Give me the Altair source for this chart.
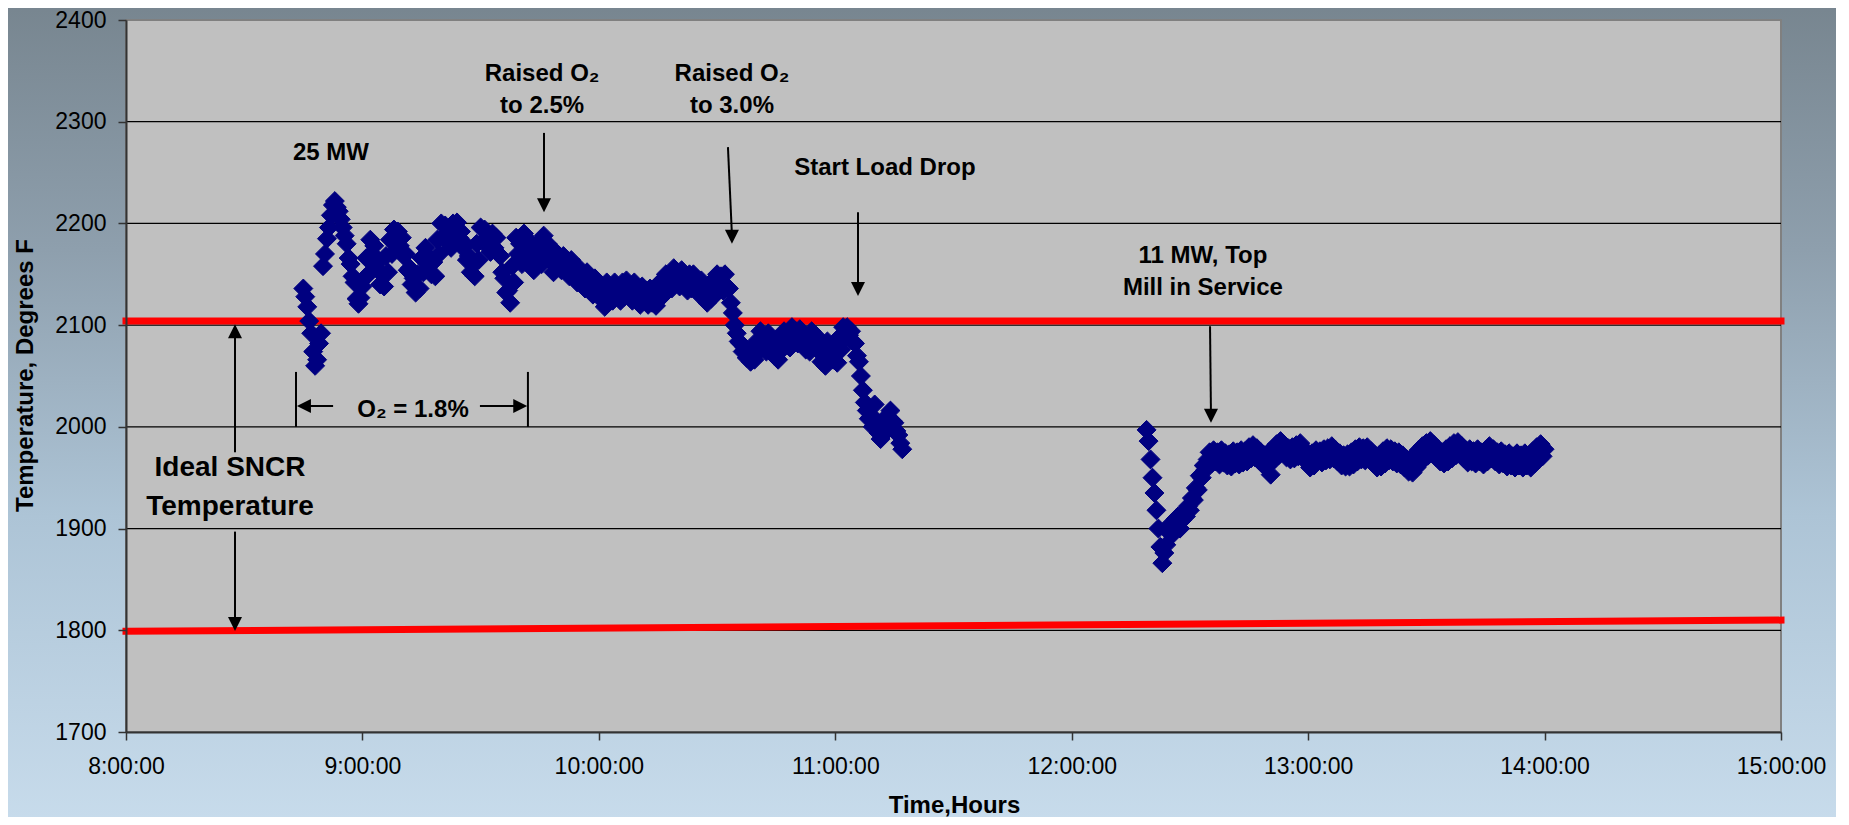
import altair as alt
import pandas as pd

# ---------------- data ----------------
# furnace temperature, one reading every 30 seconds
seg1_start = "8:45:00"
seg1_temps = [
    2136, 2128, 2118, 2104, 2092, 2074, 2060, 2066, 2082, 2092,
    2158, 2170, 2185, 2196, 2208, 2218, 2222, 2216, 2212, 2204,
    2196, 2188, 2180, 2166, 2160, 2148, 2142, 2126, 2121, 2127,
    2138, 2146, 2166, 2150, 2184, 2170, 2178, 2160, 2154, 2140,
    2150, 2138, 2168, 2152, 2184, 2170, 2194, 2180, 2192, 2178,
    2186, 2168, 2170, 2154, 2156, 2140, 2146, 2132, 2150, 2136,
    2166, 2152, 2176, 2162, 2166, 2150, 2162, 2148, 2184, 2170,
    2200, 2186, 2198, 2184, 2192, 2176, 2200, 2186, 2201, 2186,
    2192, 2176, 2180, 2164, 2168, 2152, 2160, 2148, 2180, 2164,
    2196, 2182, 2194, 2180, 2186, 2172, 2190, 2176, 2186, 2170,
    2168, 2152, 2146, 2132, 2134, 2122, 2158, 2142, 2186, 2170,
    2180, 2160, 2190, 2176, 2184, 2168, 2170, 2154, 2178, 2162,
    2176, 2160, 2188, 2174, 2180, 2164, 2166, 2152, 2172, 2158,
    2168, 2154, 2168, 2154, 2162, 2148, 2164, 2150, 2156, 2142,
    2156, 2142, 2150, 2136, 2152, 2138, 2144, 2130, 2146, 2132,
    2140, 2126, 2132, 2118, 2142, 2128, 2138, 2124, 2142, 2128,
    2138, 2124, 2142, 2128, 2144, 2130, 2138, 2124, 2142, 2128,
    2134, 2120, 2138, 2124, 2134, 2120, 2136, 2122, 2132, 2119,
    2140, 2126, 2144, 2130, 2150, 2136, 2150, 2136, 2156, 2142,
    2152, 2138, 2154, 2140, 2148, 2134, 2150, 2136, 2150, 2136,
    2144, 2130, 2144, 2130, 2136, 2122, 2140, 2126, 2144, 2130,
    2150, 2136, 2148, 2134, 2150, 2138, 2136, 2122, 2112, 2100,
    2092, 2084, 2082, 2074, 2078, 2068, 2074, 2064, 2076, 2066,
    2084, 2074, 2094, 2082, 2088, 2074, 2092, 2080, 2082, 2070,
    2078, 2066, 2088, 2076, 2094, 2082, 2090, 2078, 2098, 2086,
    2094, 2082, 2096, 2084, 2088, 2076, 2086, 2074, 2094, 2082,
    2090, 2076, 2078, 2064, 2070, 2060, 2084, 2072, 2078, 2066,
    2074, 2063, 2088, 2076, 2098, 2088, 2098, 2090, 2094, 2084,
    2082, 2070, 2064, 2050, 2036, 2024, 2016, 2008, 2010, 2000,
    2022, 2006, 1994, 1988, 2000, 1994, 2010, 2002, 2016, 2006,
    2004, 1996, 1992, 1984, 1978,
]
seg2_start = "12:19:00"
seg2_temps = [
    1997, 1986, 1968, 1950, 1935, 1918, 1900, 1882, 1866, 1876,
    1884, 1897, 1904, 1894, 1902, 1910, 1912, 1900, 1908, 1916,
    1912, 1922, 1918, 1930, 1928, 1940, 1938, 1952, 1950, 1962,
    1958, 1968, 1975, 1964, 1977, 1966, 1975, 1963, 1977, 1965,
    1974, 1962, 1973, 1961, 1976, 1964, 1975, 1963, 1977, 1965,
    1976, 1966, 1980, 1969, 1982, 1970, 1979, 1967, 1975, 1963,
    1972, 1961, 1975, 1953, 1978, 1968, 1983, 1972, 1986, 1975,
    1982, 1970, 1979, 1968, 1980, 1969, 1982, 1971, 1984, 1972,
    1978, 1966, 1972, 1960, 1974, 1962, 1977, 1966, 1976, 1965,
    1978, 1967, 1979, 1968, 1981, 1969, 1977, 1966, 1974, 1962,
    1972, 1961, 1973, 1961, 1975, 1963, 1978, 1966, 1980, 1968,
    1979, 1967, 1980, 1968, 1976, 1964, 1972, 1960, 1972, 1961,
    1976, 1964, 1979, 1967, 1978, 1966, 1976, 1964, 1975, 1963,
    1972, 1960, 1968, 1956, 1966, 1955, 1972, 1960, 1977, 1965,
    1981, 1969, 1984, 1972, 1986, 1974, 1982, 1970, 1978, 1966,
    1975, 1964, 1978, 1966, 1981, 1969, 1984, 1972, 1985, 1973,
    1981, 1969, 1977, 1965, 1978, 1966, 1976, 1964, 1978, 1966,
    1975, 1963, 1977, 1966, 1981, 1969, 1978, 1966, 1975, 1963,
    1976, 1964, 1973, 1961, 1974, 1962, 1971, 1960, 1974, 1962,
    1972, 1960, 1974, 1962, 1971, 1960, 1976, 1964, 1980, 1968,
    1983, 1971, 1978,
]

# ideal SNCR temperature window (red lines), at 8:00 and 15:00
line_hours = [8.0, 15.0]
upper_limit = [2104, 2104]
lower_limit = [1799, 1810]

x_ticks = [8, 9, 10, 11, 12, 13, 14, 15]
y_ticks = [1700, 1800, 1900, 2000, 2100, 2200, 2300, 2400]
y_grid = [1800, 1900, 2000, 2100, 2200, 2300]

# annotation texts (hour, temperature)
ann_text = ["25 MW", "Raised O\u2082", "to 2.5%", "Raised O\u2082", "to 3.0%",
            "Start Load Drop", "11 MW, Top", "Mill in Service", "O\u2082 = 1.8%"]
ann_h = [8.867, 9.760, 9.760, 10.563, 10.563, 11.210, 12.555, 12.555, 9.214]
ann_v = [2269, 2347, 2315.5, 2347, 2315.5, 2254.5, 2168, 2136.5, 2016.6]

big_text = ["Ideal SNCR", "Temperature"]
big_h = [8.440, 8.440]
big_v = [1959.5, 1921.2]

# arrow shafts and bracket lines
arrow_h = [9.768, 10.546, 11.096, 12.585, 8.461, 8.461, 8.719, 9.700, 8.876, 9.497]
arrow_v = [2289, 2275, 2211, 2099, 1975, 1897, 2054, 2000, 2020.5, 2020.5]
arrow_h2 = [9.768, 10.563, 11.096, 12.589, 8.461, 8.461, 8.719, 9.700, 8.740, 9.680]
arrow_v2 = [2218, 2188, 2136, 2012, 2092, 1808, 2000, 2054, 2020.5, 2020.5]

# arrow heads: tip position and direction
head_h = [9.768, 10.563, 11.096, 12.589, 8.461, 8.461, 8.723, 9.697]
head_v = [2211, 2180, 2128.6, 2004, 2101, 1799.3, 2020.5, 2020.5]
head_dir = ["down", "down", "down", "down", "up", "down", "left", "right"]

# ---------------- build tables ----------------
def to_hours(hms):
    hh, mm, ss = hms.split(":")
    return int(hh) + int(mm) / 60.0 + int(ss) / 3600.0

rows = []
for start, temps in ((seg1_start, seg1_temps), (seg2_start, seg2_temps)):
    t0 = to_hours(start)
    for i, v in enumerate(temps):
        rows.append({"h": t0 + i * 30 / 3600.0, "v": v})
pts = pd.DataFrame(rows)

lines = pd.DataFrame({
    "h": line_hours * 2,
    "v": upper_limit + lower_limit,
    "which": ["upper"] * 2 + ["lower"] * 2,
})
grid = pd.DataFrame({"v": y_grid})
ann = pd.DataFrame({"text": ann_text, "h": ann_h, "v": ann_v})
big = pd.DataFrame({"text": big_text, "h": big_h, "v": big_v})
arrows = pd.DataFrame({"h": arrow_h, "v": arrow_v, "h2": arrow_h2, "v2": arrow_v2})
head_paths = {
    "down": "M0,0L-1,-2L1,-2Z",
    "up": "M0,0L-1,2L1,2Z",
    "left": "M0,0L2,-1L2,1Z",
    "right": "M0,0L-2,-1L-2,1Z",
}
heads = pd.DataFrame({"h": head_h, "v": head_v,
                      "path": [head_paths[d] for d in head_dir]})

# ---------------- chart ----------------
W, H = 1655, 712
FONT = "Liberation Sans"

xscale = alt.Scale(domain=[8, 15], nice=False, zero=False)
yscale = alt.Scale(domain=[1700, 2400], nice=False, zero=False)

xaxis = alt.Axis(
    values=x_ticks, labelExpr="datum.value + ':00:00'", grid=False,
    title="Time,Hours", titleFont=FONT, titleFontSize=24, titleFontWeight="bold",
    titleColor="black", titleX=828, titleY=73, titleBaseline="middle",
    labelFont=FONT, labelFontSize=23, labelColor="black", labelPadding=15,
    labelFlush=False, labelOverlap=False, labelBound=False,
    tickSize=8, tickColor="#333333", tickWidth=1.5,
    domainColor="#333333", domainWidth=2, zindex=1,
)
yaxis = alt.Axis(
    values=y_ticks, format="d", grid=False,
    title="Temperature, Degrees F", titleFont=FONT, titleFontSize=24,
    titleFontWeight="bold", titleColor="black", titleAngle=270,
    titleX=-101, titleY=355, titleBaseline="middle", titleAlign="center",
    labelFont=FONT, labelFontSize=23, labelColor="black", labelPadding=12,
    labelOverlap=False, labelBound=False, labelFlush=False,
    tickSize=8, tickColor="#333333", tickWidth=1.5,
    domainColor="#333333", domainWidth=2, zindex=1,
)
X = alt.X("h:Q", scale=xscale, axis=xaxis)
Y = alt.Y("v:Q", scale=yscale, axis=yaxis)

gradient = alt.LinearGradient(
    gradient="linear", x1=0, x2=0, y1=0, y2=1,
    stops=[
        alt.GradientStop(color="#77858f", offset=0),
        alt.GradientStop(color="#8e9fad", offset=0.3),
        alt.GradientStop(color="#adc4d6", offset=0.62),
        alt.GradientStop(color="#c8dcec", offset=1),
    ],
)

bg = alt.Chart(pd.DataFrame({"a": [0]})).mark_rect(color=gradient).encode(
    x=alt.value(-130), x2=alt.value(W + 80), y=alt.value(-20), y2=alt.value(H + 100)
)
plot_bg = alt.Chart(pd.DataFrame({"a": [0]})).mark_rect(
    fill="#c0c0c0", stroke="#808080", strokeWidth=2
).encode(x=alt.value(0), x2=alt.value(W), y=alt.value(0), y2=alt.value(H))

grid_lines = alt.Chart(grid).mark_rule(color="black", strokeWidth=1.2).encode(
    y=Y, x=alt.value(0), x2=alt.value(W)
)

red = alt.Chart(lines).mark_line(color="#ff0000", strokeWidth=7, strokeCap="square").encode(
    x=X, y=Y, detail="which:N"
)

points = alt.Chart(pts).mark_point(
    shape="diamond", filled=True, size=360, color="#000080", opacity=1,
    stroke="#000080", strokeWidth=1
).encode(x=X, y=Y)

shafts = alt.Chart(arrows).mark_rule(color="black", strokeWidth=2).encode(
    x=X, y=Y, x2="h2:Q", y2="v2:Q"
)

arrow_heads = alt.Chart(heads).mark_point(
    filled=True, size=196, color="black", opacity=1, strokeWidth=0
).encode(x=X, y=Y, shape=alt.Shape("path:N", scale=None))

labels = alt.Chart(ann).mark_text(
    font=FONT, fontSize=24, fontWeight="bold", color="black",
    align="center", baseline="middle"
).encode(x=X, y=Y, text="text:N")

big_labels = alt.Chart(big).mark_text(
    font=FONT, fontSize=28, fontWeight="bold", color="black",
    align="center", baseline="middle"
).encode(x=X, y=Y, text="text:N")

chart = alt.layer(
    bg, plot_bg, grid_lines, red, points, shafts, arrow_heads, labels, big_labels
).properties(
    width=W, height=H,
    autosize=alt.AutoSizeParams(type="none"),
    padding={"left": 118, "top": 12, "right": 55, "bottom": 85},
    background="#a9bfd0",
).configure_view(stroke=None)

chart.save("out.html", embed_options={"renderer": "svg", "actions": False})
